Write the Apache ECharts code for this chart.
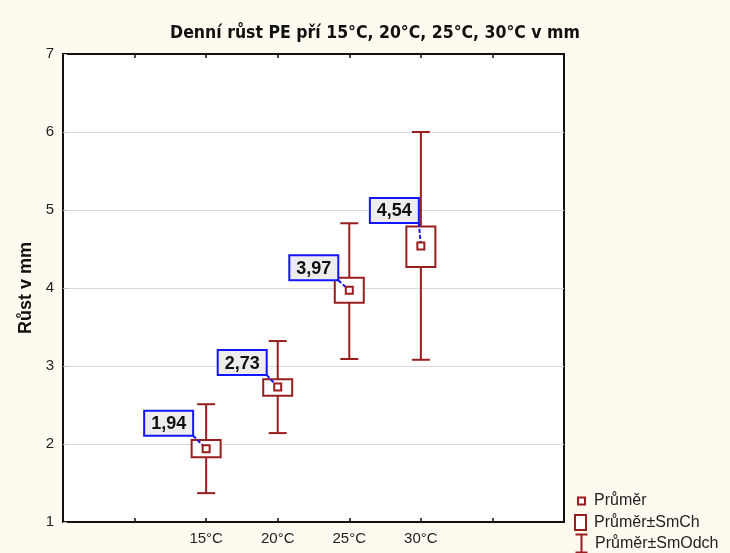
<!DOCTYPE html>
<html><head><meta charset="utf-8">
<script src="https://cdn.jsdelivr.net/npm/echarts@6/dist/echarts.min.js"></script>
<style>html,body{margin:0;padding:0;background:#FFFAF0}#c{width:730px;height:553px}</style>
</head><body><div id="c"></div>
<script>
const categories = ['15°C', '20°C', '25°C', '30°C'];
const means = [1.94, 2.73, 3.97, 4.54];
const meanLabels = ['1,94', '2,73', '3,97', '4,54'];
const seLow = [1.83, 2.62, 3.81, 4.27];
const seHigh = [2.05, 2.83, 4.13, 4.79];
const sdLow = [1.37, 2.14, 3.09, 3.08];
const sdHigh = [2.51, 3.32, 4.83, 6.00];
const yTicks = [1, 2, 3, 4, 5, 6, 7];
// label box placement relative to point (layout only)
const labelOffsets = [[-13, -13], [-11, -12], [-11, -10], [-2, -23]];

const RED = '#981E1E';
const BLUE = '#1414FF';
const xPos = categories.map((c, i) => i + 2);

const chart = echarts.init(document.getElementById('c'));
const boxW = 29, capW = 18;
const legendText = { fontFamily: 'Liberation Sans', fontSize: 16, color: '#222' };

const option = {
  backgroundColor: '#FFFAF0',
  animation: false,
  title: {
    text: 'Denní růst PE pří 15°C, 20°C, 25°C, 30°C v mm',
    left: 370, top: 19, textAlign: 'center',
    textStyle: { fontFamily: '"Liberation Sans Narrow", "DejaVu Sans Condensed", "Liberation Sans", sans-serif', fontWeight: 'bold', fontSize: 17.5, color: '#111' }
  },
  grid: { left: 63, right: 166, top: 54, bottom: 31, show: true, backgroundColor: '#fff', borderColor: '#111', borderWidth: 2 },
  xAxis: [{
    type: 'value', min: 0, max: 7, interval: 1, position: 'bottom',
    axisLine: { show: true, lineStyle: { color: '#111', width: 2 } },
    axisTick: { show: true, inside: true, length: 4, lineStyle: { color: '#111', width: 1.5 } },
    splitLine: { show: false },
    axisLabel: {
      fontFamily: 'Liberation Sans', fontSize: 15, color: '#222', margin: 9,
      formatter: v => { const i = xPos.indexOf(v); return i >= 0 ? categories[i] : ''; }
    }
  }, {
    type: 'value', min: 0, max: 7, interval: 1, position: 'top',
    axisLine: { show: true, lineStyle: { color: '#111', width: 2 } },
    axisTick: { show: true, inside: true, length: 4, lineStyle: { color: '#111', width: 1.5 } },
    splitLine: { show: false }, axisLabel: { show: false }
  }],
  yAxis: {
    type: 'value', min: yTicks[0], max: yTicks[yTicks.length - 1], interval: 1,
    name: 'Růst v mm', nameLocation: 'middle', nameGap: 25, nameRotate: 90,
    nameTextStyle: { fontFamily: 'Liberation Sans', fontWeight: 'bold', fontSize: 18, color: '#111' },
    axisLine: { show: true, lineStyle: { color: '#111', width: 2 } },
    axisTick: { show: true, inside: true, length: 4, lineStyle: { color: '#bbb' } },
    splitLine: { show: true, lineStyle: { color: '#D9D9D9', width: 1 } },
    axisLabel: { fontFamily: 'Liberation Sans', fontSize: 15, color: '#222', margin: 9 }
  },
  legend: [
    { selectedMode: false, orient: 'vertical', left: 577, top: 493, padding: 0, itemWidth: 7, itemHeight: 7,
      textStyle: Object.assign({ padding: [0, 0, 0, 4] }, legendText),
      data: [{ name: 'Průměr', icon: 'rect', itemStyle: { color: '#fff', borderColor: RED, borderWidth: 2 } }] },
    { selectedMode: false, orient: 'vertical', left: 574, top: 514, padding: 0, itemWidth: 11, itemHeight: 15,
      textStyle: Object.assign({ padding: [0, 0, 0, 3] }, legendText),
      data: [{ name: 'Průměr±SmCh', icon: 'rect', itemStyle: { color: '#fff', borderColor: RED, borderWidth: 2 } }] },
    { selectedMode: false, orient: 'vertical', left: 573, top: 532, padding: 0, itemWidth: 13, itemHeight: 18,
      textStyle: Object.assign({ padding: [0, 0, 0, 2] }, legendText),
      data: [{ name: 'Průměr±SmOdch', icon: 'path://M0,0L12,0M6,0L6,18M0,18L12,18', itemStyle: { color: 'none', borderColor: RED, borderWidth: 2 } }] }
  ],
  series: [
    {
      name: 'Průměr±SmOdch', type: 'custom', xAxisIndex: 0,
      itemStyle: { color: RED },
      data: categories.map((c, i) => [xPos[i], sdLow[i], sdHigh[i]]),
      renderItem: (params, api) => {
        const lo = api.coord([api.value(0), api.value(1)]);
        const hi = api.coord([api.value(0), api.value(2)]);
        const st = { stroke: RED, lineWidth: 2, fill: null };
        return { type: 'group', children: [
          { type: 'line', shape: { x1: lo[0], y1: lo[1], x2: hi[0], y2: hi[1] }, style: st },
          { type: 'line', shape: { x1: lo[0] - capW / 2, y1: lo[1], x2: lo[0] + capW / 2, y2: lo[1] }, style: st },
          { type: 'line', shape: { x1: hi[0] - capW / 2, y1: hi[1], x2: hi[0] + capW / 2, y2: hi[1] }, style: st }
        ]};
      }
    },
    {
      name: 'Průměr±SmCh', type: 'custom', xAxisIndex: 0,
      itemStyle: { color: RED },
      data: categories.map((c, i) => [xPos[i], seLow[i], seHigh[i]]),
      renderItem: (params, api) => {
        const lo = api.coord([api.value(0), api.value(1)]);
        const hi = api.coord([api.value(0), api.value(2)]);
        return { type: 'rect', shape: { x: lo[0] - boxW / 2, y: hi[1], width: boxW, height: lo[1] - hi[1] },
          style: { fill: '#fff', stroke: RED, lineWidth: 2 } };
      }
    },
    {
      name: 'labels', type: 'custom', xAxisIndex: 0, z: 5,
      data: categories.map((c, i) => [xPos[i], means[i], i]),
      renderItem: (params, api) => {
        const p = api.coord([api.value(0), api.value(1)]);
        const i = api.value(2);
        const off = labelOffsets[i];
        const w = 49, h = 25;
        const rx = p[0] + off[0], ry = p[1] + off[1];
        return { type: 'group', children: [
          { type: 'line', shape: { x1: rx, y1: ry, x2: p[0], y2: p[1] },
            style: { stroke: BLUE, lineWidth: 2, lineDash: [4, 2] } },
          { type: 'rect', shape: { x: rx - w, y: ry - h, width: w, height: h },
            style: { fill: '#EDEDED', stroke: BLUE, lineWidth: 2 } },
          { type: 'text', x: rx - w / 2, y: ry - h / 2 + 1,
            style: { text: meanLabels[i], fill: '#111', font: 'bold 18px "Liberation Sans"', align: 'center', verticalAlign: 'middle' } }
        ]};
      }
    },
    {
      name: 'Průměr', type: 'scatter', xAxisIndex: 0, z: 6,
      symbol: 'rect', symbolSize: 7,
      itemStyle: { color: '#fff', borderColor: RED, borderWidth: 2, opacity: 1 },
      data: categories.map((c, i) => [xPos[i], means[i]])
    }
  ]
};
chart.setOption(option);
</script>
</body></html>
